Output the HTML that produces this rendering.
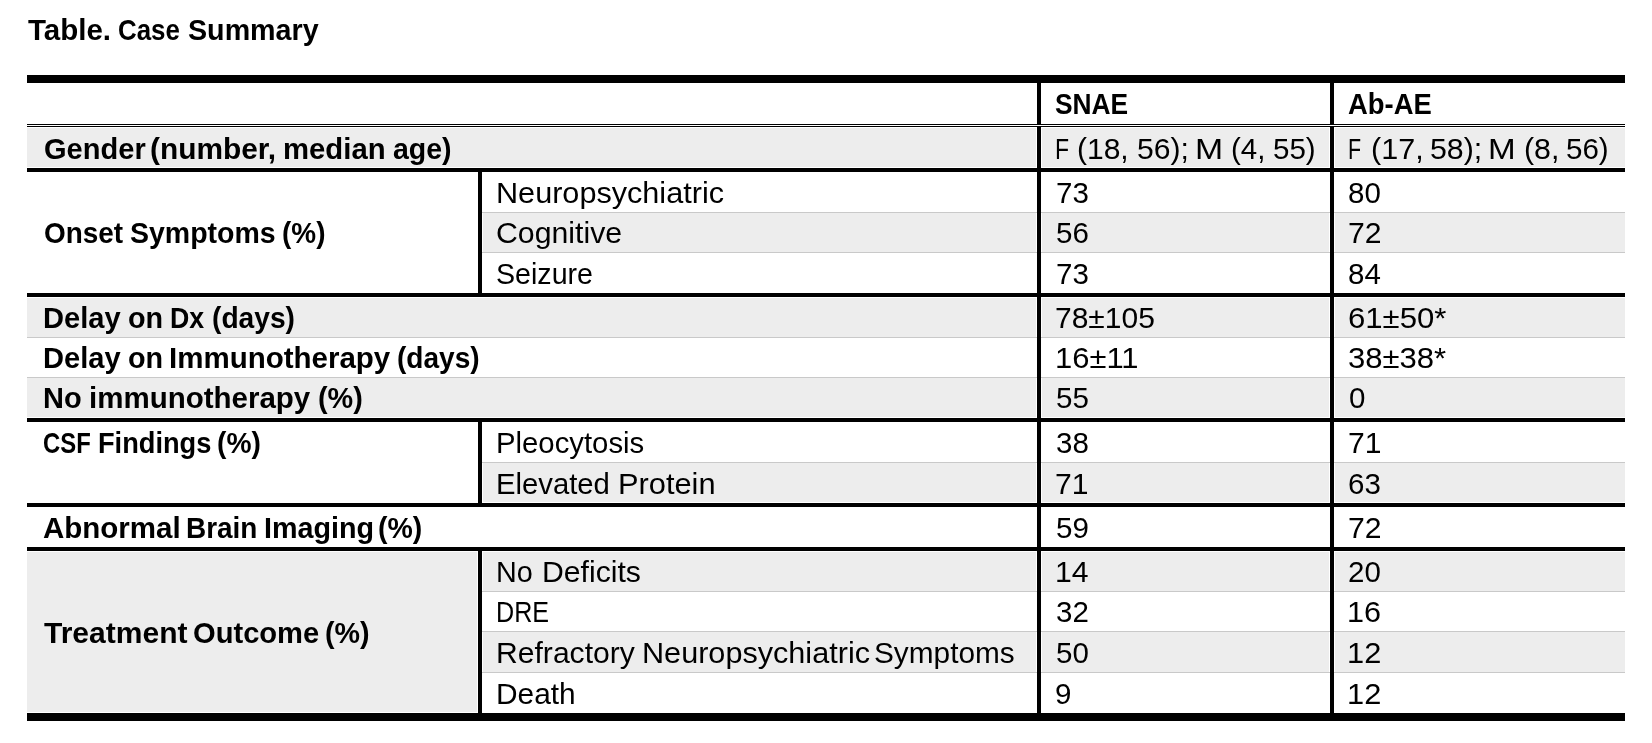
<!DOCTYPE html>
<html><head><meta charset="utf-8"><title>Table. Case Summary</title>
<style>
html,body{margin:0;padding:0;background:#fff}
body{width:1652px;height:743px;position:relative;overflow:hidden;font-family:"Liberation Sans",sans-serif;color:#000}
#pg{position:absolute;left:0;top:0;width:1652px;height:743px;will-change:transform}
#pg div{position:absolute}
.t{position:absolute;display:block;white-space:pre;font-size:29.5px;line-height:0;height:0;transform-origin:0 0}
.b{font-weight:bold}
</style></head><body>
<div id="pg">
<!-- shaded bands -->
<div style="left:27px;top:128px;width:1009px;height:39px;background:#ededed"></div>
<div style="left:1042px;top:128px;width:287px;height:39px;background:#ededed"></div>
<div style="left:1335px;top:128px;width:290px;height:39px;background:#ededed"></div>
<div style="left:483px;top:213px;width:553px;height:39px;background:#ededed"></div>
<div style="left:1042px;top:213px;width:287px;height:39px;background:#ededed"></div>
<div style="left:1335px;top:213px;width:290px;height:39px;background:#ededed"></div>
<div style="left:27px;top:298px;width:1009px;height:39px;background:#ededed"></div>
<div style="left:1042px;top:298px;width:287px;height:39px;background:#ededed"></div>
<div style="left:1335px;top:298px;width:290px;height:39px;background:#ededed"></div>
<div style="left:27px;top:378px;width:1009px;height:39px;background:#ededed"></div>
<div style="left:1042px;top:378px;width:287px;height:39px;background:#ededed"></div>
<div style="left:1335px;top:378px;width:290px;height:39px;background:#ededed"></div>
<div style="left:483px;top:463px;width:553px;height:39px;background:#ededed"></div>
<div style="left:1042px;top:463px;width:287px;height:39px;background:#ededed"></div>
<div style="left:1335px;top:463px;width:290px;height:39px;background:#ededed"></div>
<div style="left:27px;top:552px;width:450px;height:160px;background:#ededed"></div>
<div style="left:483px;top:552px;width:553px;height:39px;background:#ededed"></div>
<div style="left:1042px;top:552px;width:287px;height:39px;background:#ededed"></div>
<div style="left:1335px;top:552px;width:290px;height:39px;background:#ededed"></div>
<div style="left:483px;top:632px;width:553px;height:40px;background:#ededed"></div>
<div style="left:1042px;top:632px;width:287px;height:40px;background:#ededed"></div>
<div style="left:1335px;top:632px;width:290px;height:40px;background:#ededed"></div>
<!-- thin rules -->
<div style="left:482px;top:212px;width:1143px;height:1px;background:#c9c9c9"></div>
<div style="left:482px;top:252px;width:1143px;height:1px;background:#c9c9c9"></div>
<div style="left:27px;top:337px;width:1598px;height:1px;background:#c9c9c9"></div>
<div style="left:27px;top:377px;width:1598px;height:1px;background:#c9c9c9"></div>
<div style="left:482px;top:462px;width:1143px;height:1px;background:#c9c9c9"></div>
<div style="left:482px;top:591px;width:1143px;height:1px;background:#c9c9c9"></div>
<div style="left:482px;top:631px;width:1143px;height:1px;background:#c9c9c9"></div>
<div style="left:482px;top:672px;width:1143px;height:1px;background:#c9c9c9"></div>
<!-- thick rules -->
<div style="left:27px;top:75px;width:1598px;height:8px;background:#000"></div>
<div style="left:27px;top:713px;width:1598px;height:8px;background:#000"></div>
<div style="left:27px;top:168px;width:1598px;height:4px;background:#000"></div>
<div style="left:27px;top:293px;width:1598px;height:4px;background:#000"></div>
<div style="left:27px;top:418px;width:1598px;height:4px;background:#000"></div>
<div style="left:27px;top:503px;width:1598px;height:4px;background:#000"></div>
<div style="left:27px;top:547px;width:1598px;height:4px;background:#000"></div>
<div style="left:27px;top:124px;width:1598px;height:1px;background:#000"></div>
<div style="left:27px;top:126px;width:1598px;height:1px;background:#000"></div>
<!-- vertical rules -->
<div style="left:1037px;top:83px;width:4px;height:42px;background:#000"></div>
<div style="left:1037px;top:126px;width:4px;height:587px;background:#000"></div>
<div style="left:1330px;top:83px;width:4px;height:42px;background:#000"></div>
<div style="left:1330px;top:126px;width:4px;height:587px;background:#000"></div>
<div style="left:478px;top:168px;width:4px;height:129px;background:#000"></div>
<div style="left:478px;top:418px;width:4px;height:89px;background:#000"></div>
<div style="left:478px;top:547px;width:4px;height:170px;background:#000"></div>
<!-- text -->
<span class="t b" style="left:28.00px;top:29.78px;transform:scaleX(1.0000)">Table. </span><span class="t b" style="left:118.00px;top:29.78px;transform:scaleX(0.8777)">Case </span><span class="t b" style="left:188.00px;top:29.78px;transform:scaleX(0.9716)">Summary</span>
<span class="t b" style="left:1055.00px;top:104.28px;transform:scaleX(0.8929)">SNAE</span>
<span class="t b" style="left:1348.00px;top:104.28px;transform:scaleX(0.9287)">Ab-AE</span>
<span class="t b" style="left:44.00px;top:148.78px;transform:scaleX(0.9847)">Gender </span><span class="t b" style="left:150.00px;top:148.78px;transform:scaleX(1.0122)">(number, </span><span class="t b" style="left:283.00px;top:148.78px;transform:scaleX(0.9931)">median </span><span class="t b" style="left:393.00px;top:148.78px;transform:scaleX(0.9664)">age)</span>
<span class="t" style="left:1055.00px;top:148.78px;transform:scaleX(0.7807)">F </span><span class="t" style="left:1077.00px;top:148.78px;transform:scaleX(1.0172)">(18, </span><span class="t" style="left:1137.00px;top:148.78px;transform:scaleX(1.0199)">56); </span><span class="t" style="left:1195.00px;top:148.78px;transform:scaleX(1.1445)">M </span><span class="t" style="left:1231.00px;top:148.78px;transform:scaleX(1.0000)">(4, </span><span class="t" style="left:1273.00px;top:148.78px;transform:scaleX(1.0000)">55)</span>
<span class="t" style="left:1348.00px;top:148.78px;transform:scaleX(0.7264)">F </span><span class="t" style="left:1371.00px;top:148.78px;transform:scaleX(1.0354)">(17, </span><span class="t" style="left:1430.00px;top:148.78px;transform:scaleX(1.0262)">58); </span><span class="t" style="left:1488.00px;top:148.78px;transform:scaleX(1.1252)">M </span><span class="t" style="left:1524.00px;top:148.78px;transform:scaleX(1.0279)">(8, </span><span class="t" style="left:1566.00px;top:148.78px;transform:scaleX(1.0000)">56)</span>
<span class="t b" style="left:44.00px;top:232.78px;transform:scaleX(0.9466)">Onset </span><span class="t b" style="left:130.00px;top:232.78px;transform:scaleX(0.9654)">Symptoms </span><span class="t b" style="left:282.00px;top:232.78px;transform:scaleX(0.9467)">(%)</span>
<span class="t" style="left:496.00px;top:192.78px;transform:scaleX(1.0378)">Neuropsychiatric</span>
<span class="t" style="left:496.00px;top:233.28px;transform:scaleX(1.0251)">Cognitive</span>
<span class="t" style="left:496.00px;top:273.78px;transform:scaleX(0.9700)">Seizure</span>
<span class="t" style="left:1056.00px;top:192.78px;transform:scaleX(1.0000)">73</span>
<span class="t" style="left:1056.00px;top:233.28px;transform:scaleX(1.0000)">56</span>
<span class="t" style="left:1056.00px;top:273.78px;transform:scaleX(1.0000)">73</span>
<span class="t" style="left:1348.00px;top:192.78px;transform:scaleX(1.0000)">80</span>
<span class="t" style="left:1348.00px;top:233.28px;transform:scaleX(1.0225)">72</span>
<span class="t" style="left:1348.00px;top:273.78px;transform:scaleX(1.0000)">84</span>
<span class="t b" style="left:43.00px;top:317.78px;transform:scaleX(0.9865)">Delay </span><span class="t b" style="left:128.00px;top:317.78px;transform:scaleX(0.9747)">on </span><span class="t b" style="left:170.00px;top:317.78px;transform:scaleX(0.9065)">Dx </span><span class="t b" style="left:212.00px;top:317.78px;transform:scaleX(0.9549)">(days)</span>
<span class="t b" style="left:43.00px;top:358.28px;transform:scaleX(0.9865)">Delay </span><span class="t b" style="left:128.00px;top:358.28px;transform:scaleX(0.9747)">on </span><span class="t b" style="left:169.00px;top:358.28px;transform:scaleX(1.0000)">Immunotherapy </span><span class="t b" style="left:397.00px;top:358.28px;transform:scaleX(0.9514)">(days)</span>
<span class="t b" style="left:43.00px;top:398.28px;transform:scaleX(0.9822)">No </span><span class="t b" style="left:89.00px;top:398.28px;transform:scaleX(1.0000)">immunotherapy </span><span class="t b" style="left:318.00px;top:398.28px;transform:scaleX(0.9767)">(%)</span>
<span class="t" style="left:1055.00px;top:317.78px;transform:scaleX(1.0170)">78±105</span>
<span class="t" style="left:1055.00px;top:358.28px;transform:scaleX(1.0486)">16±11</span>
<span class="t" style="left:1056.00px;top:398.28px;transform:scaleX(1.0000)">55</span>
<span class="t" style="left:1348.00px;top:317.78px;transform:scaleX(1.0545)">61±50*</span>
<span class="t" style="left:1348.00px;top:358.28px;transform:scaleX(1.0524)">38±38*</span>
<span class="t" style="left:1349.00px;top:398.28px;transform:scaleX(1.0000)">0</span>
<span class="t b" style="left:43.00px;top:442.78px;transform:scaleX(0.8088)">CSF </span><span class="t b" style="left:98.00px;top:442.78px;transform:scaleX(0.9224)">Findings </span><span class="t b" style="left:217.00px;top:442.78px;transform:scaleX(0.9555)">(%)</span>
<span class="t" style="left:496.00px;top:442.78px;transform:scaleX(0.9932)">Pleocytosis</span>
<span class="t" style="left:496.00px;top:483.78px;transform:scaleX(0.9921)">Elevated </span><span class="t" style="left:618.00px;top:483.78px;transform:scaleX(1.0437)">Protein</span>
<span class="t" style="left:1056.00px;top:442.78px;transform:scaleX(1.0000)">38</span>
<span class="t" style="left:1055.00px;top:483.78px;transform:scaleX(1.0200)">71</span>
<span class="t" style="left:1348.00px;top:442.78px;transform:scaleX(1.0200)">71</span>
<span class="t" style="left:1348.00px;top:483.78px;transform:scaleX(1.0000)">63</span>
<span class="t b" style="left:43.00px;top:527.78px;transform:scaleX(1.0000)">Abnormal </span><span class="t b" style="left:186.00px;top:527.78px;transform:scaleX(0.9474)">Brain </span><span class="t b" style="left:264.00px;top:527.78px;transform:scaleX(0.9735)">Imaging </span><span class="t b" style="left:378.00px;top:527.78px;transform:scaleX(0.9653)">(%)</span>
<span class="t" style="left:1056.00px;top:527.78px;transform:scaleX(1.0000)">59</span>
<span class="t" style="left:1348.00px;top:527.78px;transform:scaleX(1.0225)">72</span>
<span class="t b" style="left:44.00px;top:633.28px;transform:scaleX(1.0175)">Treatment </span><span class="t b" style="left:193.00px;top:633.28px;transform:scaleX(0.9871)">Outcome </span><span class="t b" style="left:325.00px;top:633.28px;transform:scaleX(0.9721)">(%)</span>
<span class="t" style="left:496.00px;top:571.78px;transform:scaleX(0.9746)">No </span><span class="t" style="left:542.00px;top:571.78px;transform:scaleX(1.0231)">Deficits</span>
<span class="t" style="left:496.00px;top:612.28px;transform:scaleX(0.8513)">DRE</span>
<span class="t" style="left:496.00px;top:652.78px;transform:scaleX(1.0206)">Refractory </span><span class="t" style="left:642.00px;top:652.78px;transform:scaleX(1.0378)">Neuropsychiatric </span><span class="t" style="left:874.00px;top:652.78px;transform:scaleX(1.0098)">Symptoms</span>
<span class="t" style="left:496.00px;top:693.78px;transform:scaleX(1.0117)">Death</span>
<span class="t" style="left:1055.00px;top:571.78px;transform:scaleX(1.0213)">14</span>
<span class="t" style="left:1056.00px;top:612.28px;transform:scaleX(1.0000)">32</span>
<span class="t" style="left:1056.00px;top:652.78px;transform:scaleX(1.0000)">50</span>
<span class="t" style="left:1055.00px;top:693.78px;transform:scaleX(1.0000)">9</span>
<span class="t" style="left:1348.00px;top:571.78px;transform:scaleX(1.0000)">20</span>
<span class="t" style="left:1347.00px;top:612.28px;transform:scaleX(1.0362)">16</span>
<span class="t" style="left:1347.00px;top:652.78px;transform:scaleX(1.0439)">12</span>
<span class="t" style="left:1347.00px;top:693.78px;transform:scaleX(1.0439)">12</span>
</div>
</body></html>
